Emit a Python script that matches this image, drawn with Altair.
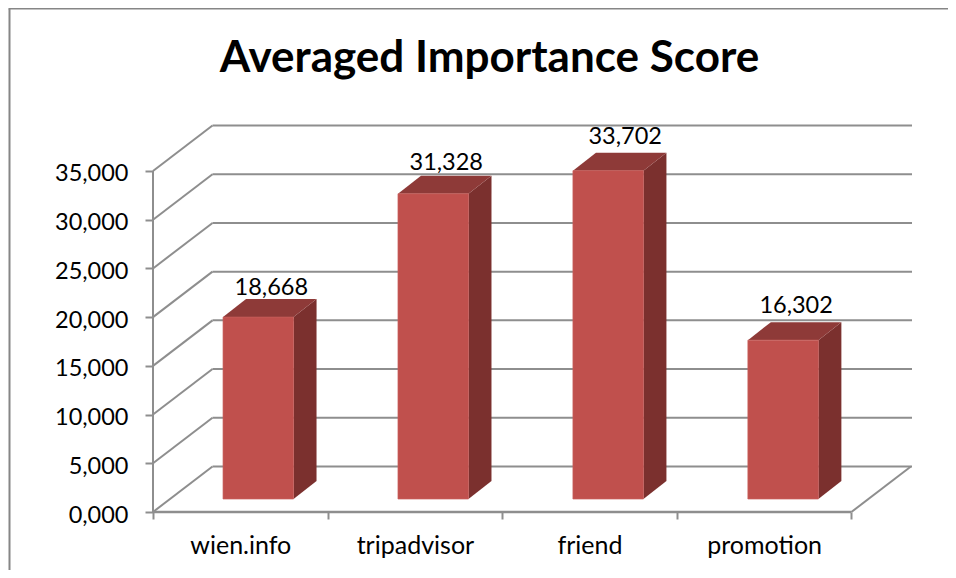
import json
import altair as alt
import pandas as pd

# ---- values
categories = ["wien.info", "tripadvisor", "friend", "promotion"]
scores = [18.668, 31.328, 33.702, 16.302]
y_ticks = [0, 5, 10, 15, 20, 25, 30, 35]
title_text = "Averaged Importance Score"

# ---- projection of the 3D look, in data units
PX_PER_CAT = 174.6
PX_PER_UNIT = 9.743
W, H = 759, 387
X_MAX = W / PX_PER_CAT
Y_MAX = H / PX_PER_UNIT
WALL_DX = 59.5 / PX_PER_CAT
WALL_DY = 45.5 / PX_PER_UNIT
BAR_W = 70.5 / PX_PER_CAT
BAR_LIFT = 13 / PX_PER_UNIT
BAR_SHIFT = 0.103
BAR_STEP = 1.002
DEPTH_DX = 23 / PX_PER_CAT
DEPTH_DY = 18 / PX_PER_UNIT
LABEL_RIGHT = (13, 13, 17, 13)
LABEL_UP = (4, 6, 9, 9)

FONT = "Lato"
GRID = "#8e8e8e"
FRONT, SIDE, TOP = "#C0504D", "#7B302E", "#8E3A38"

xs = alt.Scale(domain=[0, X_MAX], nice=False, zero=False)
ys = alt.Scale(domain=[0, Y_MAX], nice=False, zero=False)

half_steps = [i / 2 for i in range(2 * len(categories) + 1)]
names = json.dumps(categories)
x_axis = alt.Axis(
    values=half_steps, domain=False, grid=False, tickSize=7, tickWidth=2,
    tickColor=GRID,
    tickOpacity={"condition": {"test": "datum.value % 1 != 0", "value": 0}, "value": 1},
    labelExpr=f"datum.value % 1 != 0 ? {names}[floor(datum.value)] : ''",
    labelFont=FONT, labelFontSize=25, labelColor="#000000", labelPadding=14,
    labelOverlap=False, labelBound=False, labelFlush=False)
y_axis = alt.Axis(
    values=y_ticks, domain=False, grid=False, tickSize=8, tickWidth=2,
    tickColor=GRID,
    labelExpr="replace(format(datum.value, '.3f'), '.', ',')",
    labelFont=FONT, labelFontSize=23.5, labelColor="#000000", labelPadding=17,
    labelOffset=3, labelOverlap=False, labelBound=False, labelFlush=False)


def X(f="x", **k):
    return alt.X(f"{f}:Q", scale=xs, axis=x_axis, title=None, **k)


def Y(f="y", **k):
    return alt.Y(f"{f}:Q", scale=ys, axis=y_axis, title=None, stack=False, **k)


# ---- walls and floor
back = pd.DataFrame({"x": WALL_DX, "x2": X_MAX, "y": [v + WALL_DY for v in y_ticks]})
back_l = alt.Chart(back).mark_rule(color=GRID, strokeWidth=2).encode(
    x=X(), x2="x2:Q", y=Y())

diag_rows = []
for v in y_ticks:
    diag_rows += [{"id": v, "x": 0, "y": v}, {"id": v, "x": WALL_DX, "y": v + WALL_DY}]
diag_rows += [{"id": -1, "x": len(categories), "y": 0},
              {"id": -1, "x": len(categories) + WALL_DX, "y": WALL_DY}]
diag_l = alt.Chart(pd.DataFrame(diag_rows)).mark_line(color=GRID, strokeWidth=2).encode(
    x=X(), y=Y(), detail="id:N")

axis_src = pd.DataFrame({"x": [0], "y": [0]})
y_line = alt.Chart(pd.DataFrame({"x": [0], "y": [0], "y2": [max(y_ticks)]})).mark_rule(
    color=GRID, strokeWidth=2).encode(x=X(), y=Y(), y2="y2:Q")
x_line = alt.Chart(pd.DataFrame({"x": [0], "x2": [len(categories)], "y": [0]})).mark_rule(
    color=GRID, strokeWidth=2.5).encode(x=X(), x2="x2:Q", y=Y())

# ---- bars
front_rows, side_rows, top_rows, label_rows = [], [], [], []
for i, (c, v) in enumerate(zip(categories, scores)):
    x0 = i * BAR_STEP + 0.5 + BAR_SHIFT - BAR_W / 2
    x1 = x0 + BAR_W
    b, t = BAR_LIFT, BAR_LIFT + v
    front_rows.append({"cat": c, "x": x0, "x2": x1, "y": b, "y2": t})
    side_rows += [{"cat": c, "x": x1, "y": b, "y2": t},
                  {"cat": c, "x": x1 + DEPTH_DX, "y": b + DEPTH_DY, "y2": t + DEPTH_DY}]
    top_rows += [{"cat": c, "x": x0, "y": t, "y2": t},
                 {"cat": c, "x": x0 + DEPTH_DX, "y": t, "y2": t + DEPTH_DY},
                 {"cat": c, "x": x1, "y": t, "y2": t + DEPTH_DY},
                 {"cat": c, "x": x1 + DEPTH_DX, "y": t + DEPTH_DY, "y2": t + DEPTH_DY}]
    label_rows.append({"x": (x0 + x1) / 2 + LABEL_RIGHT[i] / PX_PER_CAT,
                       "y": t + DEPTH_DY + LABEL_UP[i] / PX_PER_UNIT,
                       "value": v})

front_l = alt.Chart(pd.DataFrame(front_rows)).mark_rect(
    color=FRONT, stroke="#c9605d", strokeWidth=0.7).encode(
    x=X(), x2="x2:Q", y=Y(), y2="y2:Q")
side_l = alt.Chart(pd.DataFrame(side_rows)).mark_area(
    color=SIDE, orient="vertical", interpolate="linear").encode(
    x=X(), y=Y(), y2="y2:Q", detail="cat:N")
top_l = alt.Chart(pd.DataFrame(top_rows)).mark_area(
    color=TOP, orient="vertical", interpolate="linear").encode(
    x=X(), y=Y(), y2="y2:Q", detail="cat:N")
text_l = alt.Chart(pd.DataFrame(label_rows)).transform_calculate(
    label="replace(format(datum.value, '.3f'), '.', ',')"
).mark_text(font=FONT, fontSize=23.5, color="#000000", align="center",
            baseline="alphabetic").encode(x=X(), y=Y(), text="label:N")

# ---- chart frame, outside the plot area
frame_left = alt.Chart(axis_src).mark_rule(color="#868686", strokeWidth=2).encode(
    x=alt.value(-143.5), y=alt.value(-116.25), y2=alt.value(445))
frame_top = alt.Chart(axis_src).mark_rule(color="#868686", strokeWidth=1.5).encode(
    x=alt.value(-144.5), x2=alt.value(795), y=alt.value(-116.25))

chart = alt.layer(
    back_l, diag_l, y_line, x_line, side_l, top_l, front_l, text_l,
    frame_left, frame_top,
).properties(
    width=W, height=H,
    title=alt.TitleParams(title_text, font=FONT, fontSize=44, fontWeight="bold",
                          color="#000000", anchor="middle", dx=-43, offset=-73),
    padding={"left": 145, "top": 117, "right": 36, "bottom": 58},
    autosize=alt.AutoSizeParams(type="none"),
    background="#ffffff",
).configure_view(stroke=None, strokeWidth=0)

chart.save("out.html", embed_options={"renderer": "svg", "actions": False})
